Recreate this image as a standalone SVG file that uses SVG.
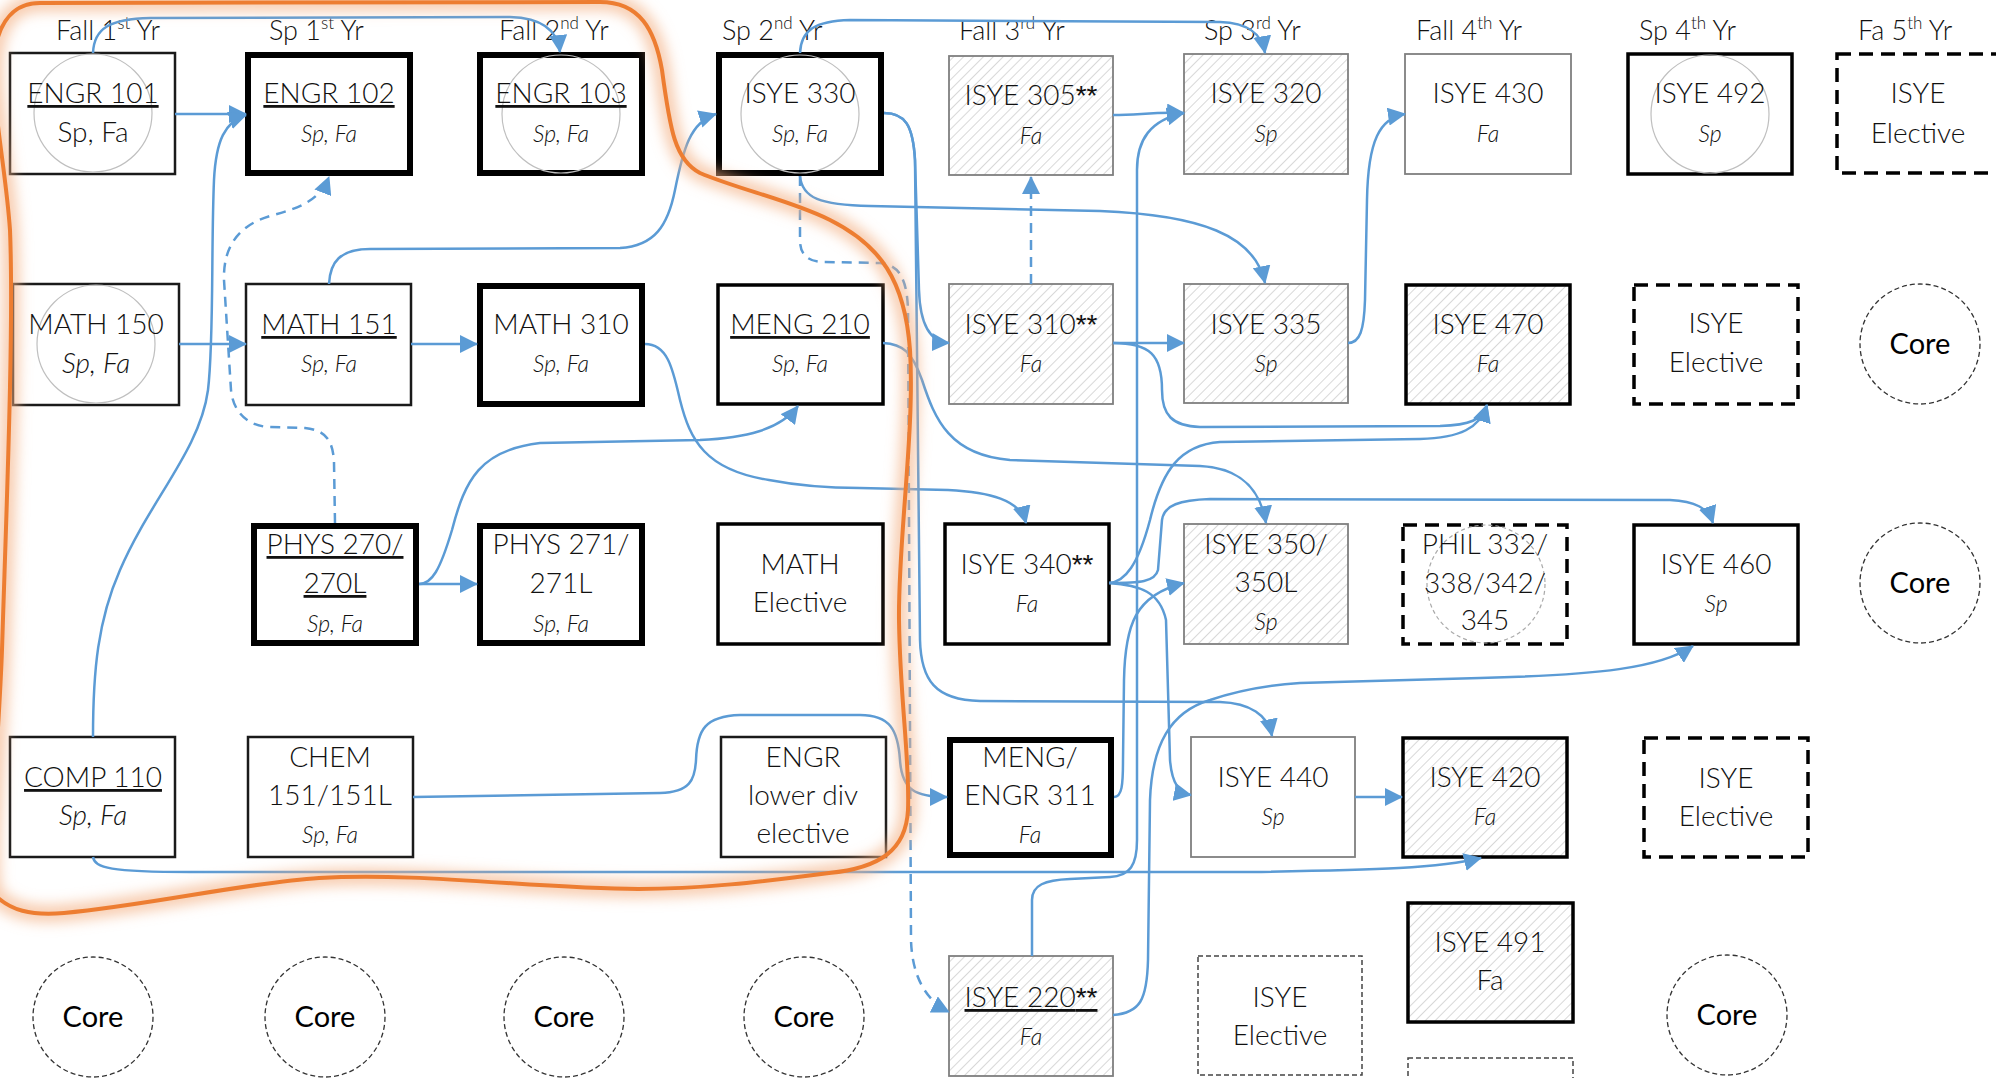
<svg xmlns="http://www.w3.org/2000/svg" width="1996" height="1078" viewBox="0 0 1996 1078">
<style>
text{font-family:Lato,'Liberation Sans',Arial,sans-serif;font-weight:300;fill:#111;text-anchor:middle}
.t{font-size:28px}
.s{font-size:23px;font-style:italic}
.si{font-size:28px;font-style:italic}
.u{text-decoration:underline}
.h{font-size:27px;text-anchor:start}
.sup{font-size:17px}
.ast{font-family:'Liberation Sans',Arial,sans-serif;font-weight:400}
.core{font-size:29px;fill:#000;font-weight:400}
.thin{fill:#fff;stroke:#1a1a1a;stroke-width:2.5}
.thick{fill:#fff;stroke:#000;stroke-width:6}
.med{fill:#fff;stroke:#000;stroke-width:3.5}
.gray{fill:#fff;stroke:#7f7f7f;stroke-width:1.8}
.hg{fill:url(#hatch);stroke:#7f7f7f;stroke-width:1.8}
.hm{fill:url(#hatch);stroke:#000;stroke-width:3.5}
.dash{fill:#fff;stroke:#000;stroke-width:3.5;stroke-dasharray:14 8}
.dthin{fill:#fff;stroke:#444;stroke-width:1.5;stroke-dasharray:5 3}
.ccl{fill:#fff;stroke:#333;stroke-width:1.3;stroke-dasharray:5 3}
.ring{fill:none;stroke:#bfbfbf;stroke-width:1.2}
.ringd{fill:none;stroke:#aaa;stroke-width:1.2;stroke-dasharray:4 3}
.c{fill:none;stroke:#5B9BD5;stroke-width:2.5;marker-end:url(#arr)}
.cd{fill:none;stroke:#5B9BD5;stroke-width:2.5;stroke-dasharray:10 7;marker-end:url(#arr)}
</style>
<defs>
<pattern id="hatch" patternUnits="userSpaceOnUse" width="7" height="7" patternTransform="rotate(45)">
<rect width="7" height="7" fill="#fff"/>
<line x1="0" y1="0" x2="0" y2="7" stroke="#c8c8c8" stroke-width="1.4"/>
</pattern>
<marker id="arr" markerUnits="userSpaceOnUse" markerWidth="18" markerHeight="18" refX="17" refY="9" orient="auto">
<path d="M0,0 L18,9 L0,18 z" fill="#5B9BD5"/>
</marker>
<filter id="glow" x="-10%" y="-10%" width="120%" height="120%">
<feGaussianBlur stdDeviation="7"/>
</filter>
</defs>
<rect width="1996" height="1078" fill="#fff"/>

<g id="headers">
<text class="h" x="56" y="40">Fall 1<tspan class="sup" dy="-11">st</tspan><tspan dy="11"> Yr</tspan></text>
<text class="h" x="269" y="40">Sp 1<tspan class="sup" dy="-11">st</tspan><tspan dy="11"> Yr</tspan></text>
<text class="h" x="499" y="40">Fall 2<tspan class="sup" dy="-11">nd</tspan><tspan dy="11"> Yr</tspan></text>
<text class="h" x="722" y="40">Sp 2<tspan class="sup" dy="-11">nd</tspan><tspan dy="11"> Yr</tspan></text>
<text class="h" x="959" y="40">Fall 3<tspan class="sup" dy="-11">rd</tspan><tspan dy="11"> Yr</tspan></text>
<text class="h" x="1204" y="40">Sp 3<tspan class="sup" dy="-11">rd</tspan><tspan dy="11"> Yr</tspan></text>
<text class="h" x="1416" y="40">Fall 4<tspan class="sup" dy="-11">th</tspan><tspan dy="11"> Yr</tspan></text>
<text class="h" x="1639" y="40">Sp 4<tspan class="sup" dy="-11">th</tspan><tspan dy="11"> Yr</tspan></text>
<text class="h" x="1858" y="40">Fa 5<tspan class="sup" dy="-11">th</tspan><tspan dy="11"> Yr</tspan></text>
</g>

<!-- Row 1 -->
<g id="engr101"><rect class="thin" x="10" y="53" width="165" height="121"/><circle class="ring" cx="93" cy="113" r="59"/><text class="t u" x="93" y="103">ENGR 101</text><text class="t" x="93" y="142">Sp, Fa</text></g>
<g id="engr102"><rect class="thick" x="248" y="55" width="162" height="118"/><text class="t u" x="329" y="103">ENGR 102</text><text class="s" x="329" y="142">Sp, Fa</text></g>
<g id="engr103"><rect class="thick" x="480" y="55" width="162" height="118"/><circle class="ring" cx="561" cy="114" r="59"/><text class="t u" x="561" y="103">ENGR 103</text><text class="s" x="561" y="142">Sp, Fa</text></g>
<g id="isye330"><rect class="thick" x="719" y="55" width="162" height="118"/><circle class="ring" cx="800" cy="114" r="59"/><text class="t" x="800" y="103">ISYE 330</text><text class="s" x="800" y="142">Sp, Fa</text></g>
<g id="isye305"><rect class="hg" x="949" y="56" width="164" height="119"/><text class="t" x="1031" y="105">ISYE 305<tspan class="ast">**</tspan></text><text class="s" x="1031" y="144">Fa</text></g>
<g id="isye320"><rect class="hg" x="1184" y="54" width="164" height="120"/><text class="t" x="1266" y="103">ISYE 320</text><text class="s" x="1266" y="142">Sp</text></g>
<g id="isye430"><rect class="gray" x="1405" y="54" width="166" height="120"/><text class="t" x="1488" y="103">ISYE 430</text><text class="s" x="1488" y="142">Fa</text></g>
<g id="isye492"><rect class="med" x="1628" y="54" width="164" height="120"/><circle class="ring" cx="1710" cy="114" r="59"/><text class="t" x="1710" y="103">ISYE 492</text><text class="s" x="1710" y="142">Sp</text></g>
<g id="elective-fa5"><rect class="dash" x="1837" y="54" width="170" height="119"/><text class="t" x="1918" y="103">ISYE</text><text class="t" x="1918" y="143">Elective</text></g>

<!-- Row 2 -->
<g id="math150"><rect class="thin" x="13" y="284" width="166" height="121"/><circle class="ring" cx="96" cy="344" r="59"/><text class="t" x="96" y="334">MATH 150</text><text class="si" x="96" y="373">Sp, Fa</text></g>
<g id="math151"><rect class="thin" x="246" y="284" width="165" height="121"/><text class="t u" x="329" y="334">MATH 151</text><text class="s" x="329" y="372">Sp, Fa</text></g>
<g id="math310"><rect class="thick" x="480" y="286" width="162" height="118"/><text class="t" x="561" y="334">MATH 310</text><text class="s" x="561" y="372">Sp, Fa</text></g>
<g id="meng210"><rect class="med" x="718" y="285" width="165" height="119"/><text class="t u" x="800" y="334">MENG 210</text><text class="s" x="800" y="372">Sp, Fa</text></g>
<g id="isye310"><rect class="hg" x="949" y="284" width="164" height="120"/><text class="t" x="1031" y="334">ISYE 310<tspan class="ast">**</tspan></text><text class="s" x="1031" y="372">Fa</text></g>
<g id="isye335"><rect class="hg" x="1184" y="284" width="164" height="119"/><text class="t" x="1266" y="334">ISYE 335</text><text class="s" x="1266" y="372">Sp</text></g>
<g id="isye470"><rect class="hm" x="1406" y="285" width="164" height="119"/><text class="t" x="1488" y="334">ISYE 470</text><text class="s" x="1488" y="372">Fa</text></g>
<g id="elective-sp4"><rect class="dash" x="1634" y="285" width="164" height="119"/><text class="t" x="1716" y="333">ISYE</text><text class="t" x="1716" y="372">Elective</text></g>
<g id="core-r2"><circle class="ccl" cx="1920" cy="344" r="60"/><text class="core" x="1920" y="354">Core</text></g>

<!-- Row 3 -->
<g id="phys270"><rect class="thick" x="254" y="526" width="162" height="117"/><text class="t u" x="335" y="554">PHYS 270/</text><text class="t u" x="335" y="593">270L</text><text class="s" x="335" y="632">Sp, Fa</text></g>
<g id="phys271"><rect class="thick" x="480" y="526" width="162" height="117"/><text class="t" x="561" y="554">PHYS 271/</text><text class="t" x="561" y="593">271L</text><text class="s" x="561" y="632">Sp, Fa</text></g>
<g id="math-elective"><rect class="med" x="718" y="524" width="165" height="120"/><text class="t" x="800" y="574">MATH</text><text class="t" x="800" y="612">Elective</text></g>
<g id="isye340"><rect class="med" x="945" y="524" width="164" height="120"/><text class="t" x="1027" y="574">ISYE 340<tspan class="ast">**</tspan></text><text class="s" x="1027" y="612">Fa</text></g>
<g id="isye350"><rect class="hg" x="1184" y="524" width="164" height="120"/><text class="t" x="1266" y="554">ISYE 350/</text><text class="t" x="1266" y="592">350L</text><text class="s" x="1266" y="630">Sp</text></g>
<g id="phil"><rect class="dash" x="1403" y="525" width="164" height="119"/><circle class="ringd" cx="1486" cy="584" r="59"/><text class="t" x="1485" y="554">PHIL 332/</text><text class="t" x="1485" y="593">338/342/</text><text class="t" x="1485" y="630">345</text></g>
<g id="isye460"><rect class="med" x="1634" y="525" width="164" height="119"/><text class="t" x="1716" y="574">ISYE 460</text><text class="s" x="1716" y="612">Sp</text></g>
<g id="core-r3"><circle class="ccl" cx="1920" cy="583" r="60"/><text class="core" x="1920" y="593">Core</text></g>

<!-- Row 4 -->
<g id="comp110"><rect class="thin" x="10" y="737" width="165" height="120"/><text class="t u" x="93" y="787">COMP 110</text><text class="si" x="93" y="825">Sp, Fa</text></g>
<g id="chem151"><rect class="thin" x="248" y="737" width="165" height="120"/><text class="t" x="330" y="767">CHEM</text><text class="t" x="330" y="805">151/151L</text><text class="s" x="330" y="843">Sp, Fa</text></g>
<g id="engr-lower-div"><rect class="thin" x="721" y="737" width="165" height="120"/><text class="t" x="803" y="767">ENGR</text><text class="t" x="803" y="805">lower div</text><text class="t" x="803" y="843">elective</text></g>
<g id="meng311"><rect class="thick" x="950" y="740" width="161" height="115"/><text class="t" x="1030" y="767">MENG/</text><text class="t" x="1030" y="805">ENGR 311</text><text class="s" x="1030" y="843">Fa</text></g>
<g id="isye440"><rect class="gray" x="1191" y="737" width="164" height="120"/><text class="t" x="1273" y="787">ISYE 440</text><text class="s" x="1273" y="825">Sp</text></g>
<g id="isye420"><rect class="hm" x="1403" y="738" width="164" height="119"/><text class="t" x="1485" y="787">ISYE 420</text><text class="s" x="1485" y="825">Fa</text></g>
<g id="elective-r4"><rect class="dash" x="1644" y="738" width="164" height="119"/><text class="t" x="1726" y="788">ISYE</text><text class="t" x="1726" y="826">Elective</text></g>

<!-- Row 5 -->
<g id="core-1"><circle class="ccl" cx="93" cy="1017" r="60"/><text class="core" x="93" y="1027">Core</text></g>
<g id="core-2"><circle class="ccl" cx="325" cy="1017" r="60"/><text class="core" x="325" y="1027">Core</text></g>
<g id="core-3"><circle class="ccl" cx="564" cy="1017" r="60"/><text class="core" x="564" y="1027">Core</text></g>
<g id="core-4"><circle class="ccl" cx="804" cy="1017" r="60"/><text class="core" x="804" y="1027">Core</text></g>
<g id="isye220"><rect class="hg" x="949" y="956" width="164" height="120"/><text class="t u" x="1031" y="1007">ISYE 220<tspan class="ast">**</tspan></text><text class="s" x="1031" y="1045">Fa</text></g>
<g id="elective-r5"><rect class="dthin" x="1198" y="956" width="164" height="119"/><text class="t" x="1280" y="1007">ISYE</text><text class="t" x="1280" y="1045">Elective</text></g>
<g id="isye491"><rect class="hm" x="1408" y="903" width="165" height="119"/><text class="t" x="1490" y="952">ISYE 491</text><text class="t" x="1490" y="990">Fa</text></g>
<g id="box-bottom"><rect class="dthin" x="1408" y="1058" width="165" height="40"/></g>
<g id="core-5"><circle class="ccl" cx="1727" cy="1015" r="60"/><text class="core" x="1727" y="1025">Core</text></g>

<g id="connectors">
<path class="c" d="M175,114 L246,114"/>
<path class="c" d="M93,53 C94,28 110,19 150,18 L510,17 C545,18 558,33 560,52"/>
<path class="c" d="M93,737 C93,670 98,620 120,570 C150,500 200,450 208,390 C214,340 211,250 214,180 C216,140 225,122 246,115"/>
<path class="cd" d="M335,523 L334,462 C333,440 325,430 305,428 L268,427 C245,425 233,410 231,390 L224,280 C223,245 240,225 270,216 C300,208 320,200 329,177"/>
<path class="c" d="M179,344 L246,344"/>
<path class="c" d="M411,344 L477,344"/>
<path class="c" d="M329,284 C330,262 340,249 370,249 L620,248 C655,246 668,225 675,190 C683,150 690,122 716,114"/>
<path class="c" d="M645,344 C668,344 673,370 680,400 C690,440 705,470 769,480 C800,486 830,488 860,488 L948,490 C990,492 1020,500 1026,523"/>
<path class="c" d="M419,584 L477,584"/>
<path class="c" d="M419,584 C432,584 440,570 452,530 C465,480 480,450 540,443 L700,440 C745,438 780,430 798,406"/>
<path class="c" d="M413,797 L660,793 C690,792 695,780 696,760 C697,730 705,716 740,715 L860,715 C890,715 898,730 900,760 C902,790 915,797 947,797"/>
<path class="c" d="M800,53 C801,30 815,21 850,20 L1220,22 C1250,23 1262,35 1265,53"/>
<path class="c" d="M884,113 C905,113 913,125 915,160 L919,290 C920,325 930,342 949,343"/>
<path class="c" d="M884,113 C905,113 913,125 915,160 L920,640 C921,680 935,700 980,701 L1220,702 C1250,703 1268,715 1272,736"/>
<path class="c" d="M800,176 C802,198 820,205 870,206 L1100,211 C1200,215 1255,235 1265,283"/>
<path class="cd" d="M800,176 L800,240 C800,255 808,262 825,262 L880,263 C900,265 907,280 908,310 L911,940 C912,975 925,1000 949,1012"/>
<path class="cd" d="M1031,284 L1031,177"/>
<path class="c" d="M1113,115 C1140,115 1150,112 1184,113"/>
<path class="c" d="M1032,956 L1032,900 C1032,885 1045,880 1070,879 L1110,877 C1130,876 1137,865 1137,840 L1137,170 C1137,140 1150,120 1184,113"/>
<path class="c" d="M1113,343 L1184,343"/>
<path class="c" d="M1113,343 C1150,343 1162,355 1162,390 C1162,415 1172,426 1200,427 L1440,426 C1470,425 1482,420 1487,405"/>
<path class="c" d="M1109,583 C1125,582 1138,565 1150,520 C1162,470 1180,445 1220,442 L1420,439 C1460,438 1480,428 1487,405"/>
<path class="c" d="M1109,583 C1140,583 1155,582 1158,570 L1162,520 C1164,505 1180,500 1210,499 L1670,500 C1695,501 1708,508 1713,523"/>
<path class="c" d="M1109,583 C1140,585 1160,592 1166,620 L1170,760 C1172,785 1180,793 1191,795"/>
<path class="c" d="M883,343 C903,344 912,352 922,380 C935,420 950,455 1010,460 L1200,466 C1240,468 1260,488 1266,523"/>
<path class="c" d="M1114,797 C1122,797 1123,785 1123,760 L1124,680 C1125,625 1135,595 1184,583"/>
<path class="c" d="M1348,343 C1360,343 1364,330 1365,300 L1367,200 C1368,140 1380,118 1405,114"/>
<path class="c" d="M1355,797 L1402,797"/>
<path class="c" d="M93,857 C95,868 110,872 190,872 L1250,872 C1380,870 1440,868 1481,858"/>
<path class="c" d="M1113,1015 C1140,1013 1147,1000 1148,960 L1150,800 C1152,745 1170,712 1210,700 C1240,690 1270,685 1300,683 L1480,678 C1600,675 1660,668 1693,646"/>
</g>

<g id="outline">
<path d="M40,3 L600,2 C640,2 655,30 662,70 C670,130 675,160 700,173 C740,190 790,200 830,220 C880,245 905,280 910,350 C915,430 898,540 899,620 C900,700 910,760 908,810 C906,850 880,868 829,873 C760,882 700,889 638,889 C540,889 420,872 319,878 C250,882 150,905 64,913 C30,916 10,910 -5,895 C-15,870 -2,760 2,650 C6,520 14,330 10,230 C5,160 -10,100 -5,50 C0,20 15,3 40,3 Z" fill="none" stroke="#F4B183" stroke-width="16" stroke-opacity="0.7" filter="url(#glow)"/>
<path d="M40,3 L600,2 C640,2 655,30 662,70 C670,130 675,160 700,173 C740,190 790,200 830,220 C880,245 905,280 910,350 C915,430 898,540 899,620 C900,700 910,760 908,810 C906,850 880,868 829,873 C760,882 700,889 638,889 C540,889 420,872 319,878 C250,882 150,905 64,913 C30,916 10,910 -5,895 C-15,870 -2,760 2,650 C6,520 14,330 10,230 C5,160 -10,100 -5,50 C0,20 15,3 40,3 Z" fill="none" stroke="#ED7D31" stroke-width="4"/>
</g>
</svg>
